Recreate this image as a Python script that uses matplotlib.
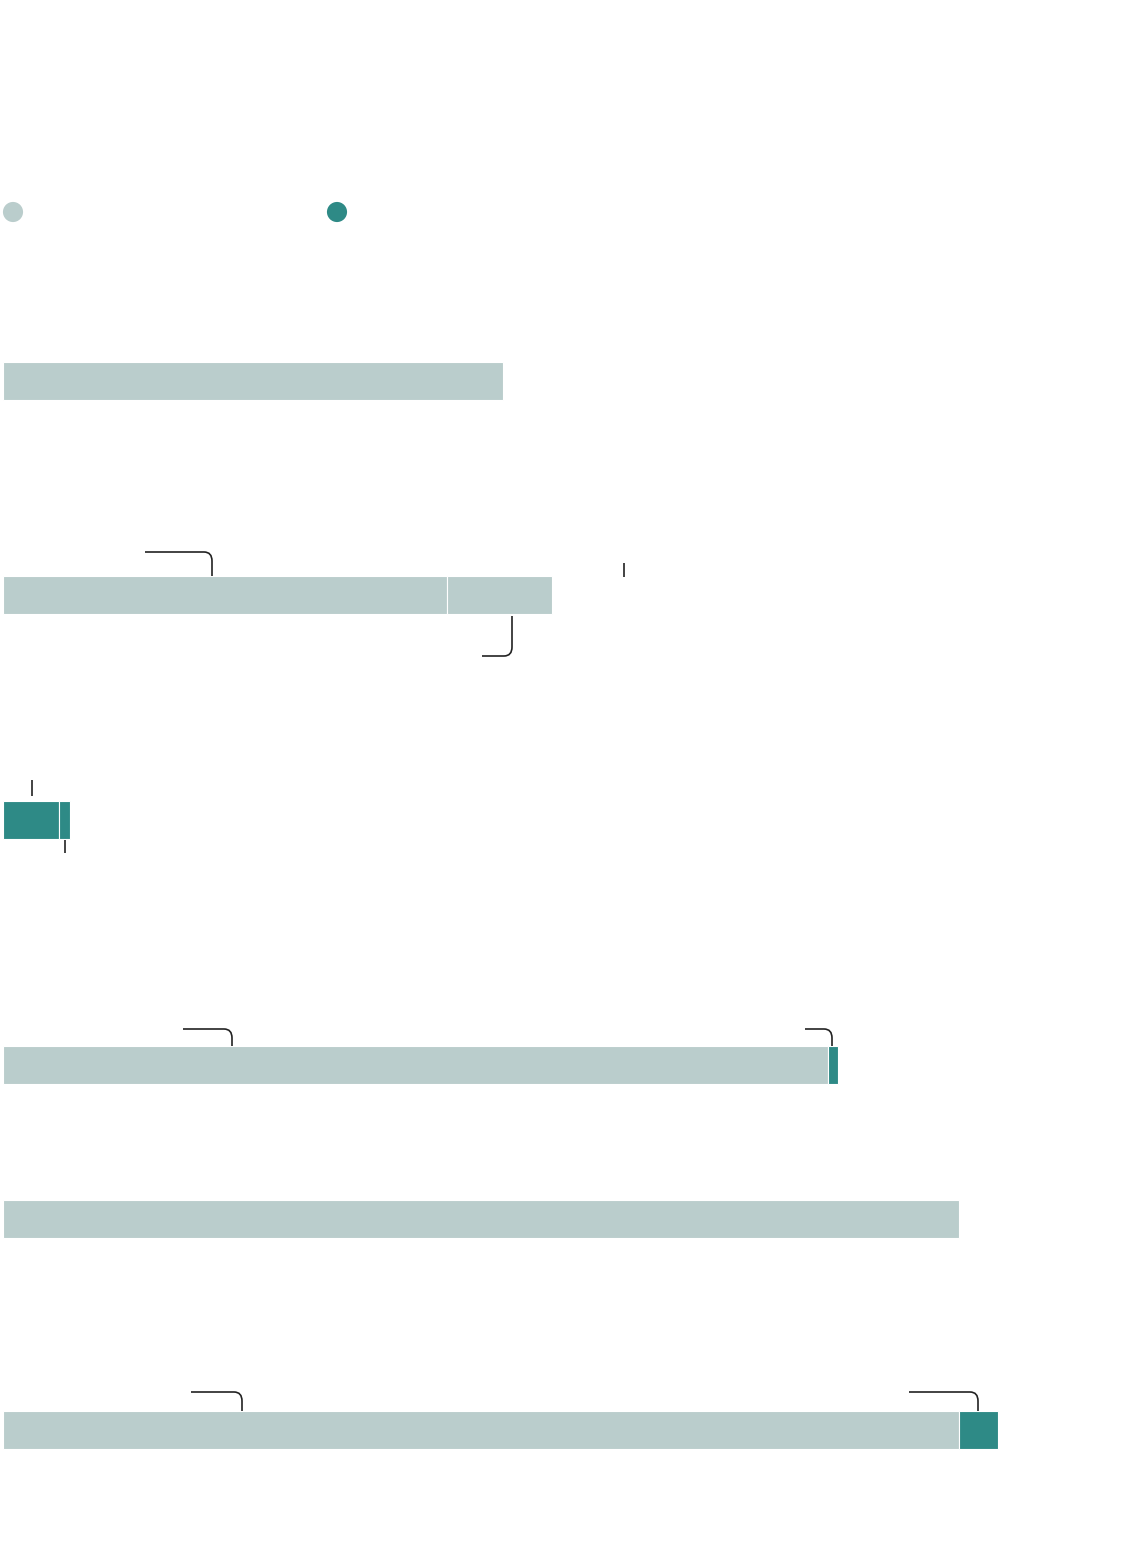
import matplotlib.pyplot as plt
from matplotlib.path import Path
from matplotlib.patches import PathPatch

# data (share units)
rows = ['r1', 'r2', 'r3', 'r4', 'r5', 'r6']
grey_a = [50.0, 44.4, 0.0, 82.5, 95.6, 95.6]
grey_b = [0.0, 10.5, 0.0, 0.0, 0.0, 0.0]
teal_a = [0.0, 0.0, 5.6, 1.0, 0.0, 3.9]
teal_b = [0.0, 0.0, 1.1, 0.0, 0.0, 0.0]

GREY = '#bacdcc'
TEAL = '#2e8a86'
INK = '#222222'

# layout: row centres in pixels from top
row_y = [381, 594.5, 819.5, 1064.5, 1218.5, 1429.5]
bar_h = 38

fig = plt.figure(figsize=(11.32, 15.6), dpi=100)
ax = fig.add_axes([3 / 1132, 0, 1129 / 1132, 1])
ax.set_xlim(0, 112.9)
ax.set_ylim(1560, 0)
ax.axis('off')

for i, r in enumerate(rows):
    left = 0
    for val, col in [(grey_a[i], GREY), (grey_b[i], GREY), (teal_a[i], TEAL), (teal_b[i], TEAL)]:
        if val <= 0:
            continue
        ax.barh(row_y[i], val, left=left, height=bar_h, color=col,
                edgecolor='white', linewidth=0.8)
        left += val

# legend dots
ax.scatter([1.0, 33.4], [212, 212], s=210, c=[GREY, TEAL], linewidths=0, clip_on=False)


def leader(x0, x1, y0, y1, r=0.8, ry=9):
    # horizontal run then a rounded bend into a vertical drop/rise
    sgn_x = 1 if x1 > x0 else -1
    sgn_y = 1 if y1 > y0 else -1
    verts = [(x0, y0), (x1 - sgn_x * r, y0), (x1, y0), (x1, y0 + sgn_y * ry), (x1, y1)]
    codes = [Path.MOVETO, Path.LINETO, Path.CURVE3, Path.CURVE3, Path.LINETO]
    ax.add_patch(PathPatch(Path(verts, codes), fill=False, ec=INK, lw=1.2, capstyle='butt'))


def tick(x, y0, y1):
    ax.plot([x, x], [y0, y1], color=INK, lw=1.2, solid_capstyle='butt')


# row 2
leader(14.2, 20.9, 552, 576)
leader(47.9, 50.9, 656, 616)
tick(62.1, 563, 577)
# row 3
tick(2.9, 780, 796)
tick(6.2, 840, 853)
# row 4
leader(18.0, 22.9, 1029, 1046)
leader(80.2, 82.9, 1029, 1046)
# row 6
leader(18.8, 23.9, 1392, 1411)
leader(90.6, 97.5, 1392, 1411)

plt.savefig('out.png', dpi=100, facecolor='white')
